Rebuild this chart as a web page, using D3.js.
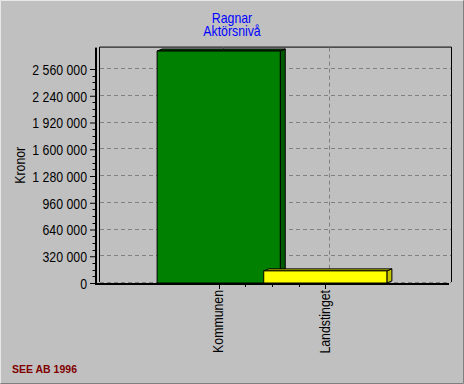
<!DOCTYPE html>
<html><head><meta charset="utf-8">
<script src="https://cdn.jsdelivr.net/npm/d3@7/dist/d3.min.js"></script>
<style>
body{margin:0;background:#c0c0c0;}
svg{display:block}
.nar{font-family:"Liberation Sans",Arial,sans-serif;font-size:15px;}
</style>
</head><body>
<svg id="c" width="464" height="384"></svg>
<script>
const titleLines = ["Ragnar", "Aktörsnivå"];
const categories = ["Kommunen", "Landstinget"];
const values = [2775000, 145000];
const barColors = ["#008000", "#ffff00"];
const sideColors = ["#005a00", "#c4c400"];
const yTicks = [0, 320000, 640000, 960000, 1280000, 1600000, 1920000, 2240000, 2560000];
const yAxisTitle = "Kronor";
const footer = "SEE AB 1996";

const W = 464, H = 384;
const svg = d3.select("#c");
const fmt = d3.formatLocale({decimal: ",", thousands: "\u00a0", grouping: [3], currency: ["", " kr"]}).format(",d");

// layout
const left = 95, right = 449, bottom = 283, yMax = 2816000;
const wallDx = 4, wallDy = -1;
const barDx = 5, barDy = -2;
const narrow = 0.82;

const y = d3.scaleLinear().domain([0, yMax]).range([bottom, 47.6]);
const x = d3.scalePoint().domain(categories).range([left, right]).padding(1.16);
const step = x.step();
const barW = step * 1.155;

// background + bevel border
svg.append("rect").attr("width", W).attr("height", H).attr("fill", "#c0c0c0");
svg.append("path").attr("d", `M0.5,${H-1} V0.5 H${W-1}`).attr("stroke", "#e8e8e8").attr("fill", "none");
svg.append("path").attr("d", `M0.5,${H-0.5} H${W-0.5} V0.5`).attr("stroke", "#808080").attr("fill", "none");

// back wall
const wl = left + wallDx, wr = right + 2, wt = y(yMax) + wallDy, wb = bottom - 1;
svg.append("path")
  .attr("d", `M${wl+0.5},${wb} V${wt+0.5} H${wr+0.5} V${wb}`)
  .attr("stroke", "#000").attr("fill", "none");

// horizontal grid
svg.append("g").selectAll("line").data(yTicks).join("line")
  .attr("x1", wl + 1).attr("x2", wr)
  .attr("y1", d => Math.round(y(d)) - 0.5).attr("y2", d => Math.round(y(d)) - 0.5)
  .attr("stroke", "#808080").attr("stroke-dasharray", "4,3");

// vertical grid at categories
svg.append("g").selectAll("line").data(categories).join("line")
  .attr("x1", d => Math.round(x(d) + wallDx) + 0.5).attr("x2", d => Math.round(x(d) + wallDx) + 0.5)
  .attr("y1", wt + 1).attr("y2", wb)
  .attr("stroke", "#808080").attr("stroke-dasharray", "4,3");

// y axis (D3 axis for ticks/labels)
const yAxis = d3.axisLeft(y).tickValues(yTicks).tickFormat(fmt).tickSize(5).tickPadding(3);
const gy = svg.append("g").attr("transform", `translate(${left},0)`).call(yAxis);
gy.attr("font-family", null).attr("font-size", null);
gy.select(".domain").remove();
gy.selectAll(".tick line").attr("stroke", "#000");
gy.selectAll(".tick text").attr("class", "nar").attr("fill", "#000").attr("dy", "0.36em");

// minor y ticks
const minorY = [];
for (let i = 0; i < yTicks.length - 1; i++) {
  const a = yTicks[i], b = yTicks[i+1];
  for (let k = 1; k < 4; k++) minorY.push(a + (b - a) * k / 4);
}
svg.append("g").selectAll("line").data(minorY).join("line")
  .attr("x1", left - 2.5).attr("x2", left)
  .attr("y1", d => Math.round(y(d)) + 0.5).attr("y2", d => Math.round(y(d)) + 0.5)
  .attr("stroke", "#000");

// x ticks
const xs = categories.map(c => x(c));
svg.append("g").selectAll("line").data(xs).join("line")
  .attr("x1", d => Math.round(d) + 0.5).attr("x2", d => Math.round(d) + 0.5)
  .attr("y1", bottom + 1).attr("y2", bottom + 6).attr("stroke", "#000");
const minorX = [];
for (let i = 0; i < xs.length - 1; i++) for (let k = 1; k < 4; k++) minorX.push(xs[i] + (xs[i+1] - xs[i]) * k / 4);
svg.append("g").selectAll("line").data(minorX).join("line")
  .attr("x1", d => Math.round(d) + 0.5).attr("x2", d => Math.round(d) + 0.5)
  .attr("y1", bottom + 1).attr("y2", bottom + 4).attr("stroke", "#000");

// bars
const bars = svg.append("g");
categories.forEach((c, i) => {
  const x0 = x(c) - barW / 2, x1 = x0 + barW, yt = y(values[i]), yb = bottom;
  const g = bars.append("g").attr("stroke", "#000").attr("stroke-width", 1).attr("stroke-linejoin", "round");
  g.append("path").attr("d", `M${x1},${yt} L${x1+barDx},${yt+barDy} L${x1+barDx},${yb+barDy} L${x1},${yb} Z`).attr("fill", sideColors[i]);
  g.append("path").attr("d", `M${x0},${yt} L${x0+barDx},${yt+barDy} L${x1+barDx},${yt+barDy} L${x1},${yt} Z`).attr("fill", sideColors[i]);
  g.append("rect").attr("x", x0).attr("y", yt).attr("width", barW).attr("height", yb - yt).attr("fill", barColors[i]);
});

// axis lines (thick)
svg.append("rect").attr("x", left).attr("y", y(yMax)).attr("width", 2).attr("height", bottom + 2 - y(yMax)).attr("fill", "#000");
svg.append("rect").attr("x", left).attr("y", bottom).attr("width", right - left).attr("height", 2).attr("fill", "#000");

// category labels
svg.append("g").selectAll("text").data(categories).join("text")
  .attr("class", "nar")
  .attr("transform", d => `translate(${x(d) + 4.5},${bottom + 7}) rotate(-90)`)
  .attr("text-anchor", "end").attr("fill", "#000").text(d => d);

// y axis title
svg.append("text").attr("class", "nar")
  .attr("transform", `translate(25,${(y(yMax) + bottom) / 2}) rotate(-90)`)
  .attr("text-anchor", "middle").attr("fill", "#000").text(yAxisTitle);

// title
svg.append("g").selectAll("text").data(titleLines).join("text")
  .attr("class", "nar").attr("x", W / 2).attr("y", (d, i) => 22.5 + i * 13.5)
  .attr("text-anchor", "middle").attr("fill", "#0000ff").text(d => d);

// footer
svg.append("text").attr("x", 12).attr("y", 372.5)
  .attr("font-family", "Liberation Sans, Arial, sans-serif").attr("font-weight", "bold").attr("font-size", 10.5)
  .attr("fill", "#800000").text(footer);

// narrow the bitmap-style font: compress glyphs horizontally
svg.selectAll("text.nar").each(function() {
  const w = this.getComputedTextLength();
  d3.select(this).attr("textLength", w * narrow).attr("lengthAdjust", "spacingAndGlyphs");
});
</script>
</body></html>
